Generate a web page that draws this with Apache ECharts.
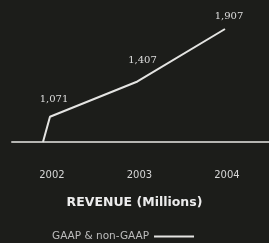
<!DOCTYPE html>
<html>
<head>
<meta charset="utf-8">
<script src="https://cdn.jsdelivr.net/npm/echarts@6/dist/echarts.min.js"></script>
<style>
  html, body { margin: 0; padding: 0; background: #1c1d1a; }
  #chart { width: 269px; height: 243px; }
</style>
</head>
<body>
<div id="chart"></div>
<script>
var years = [2002, 2003, 2004]
var revenue = [1071, 1407, 1907] // millions
var stubStart = [2001.92, 830] // line rises from the baseline into 2002
var seriesName = 'GAAP & non-GAAP'
var titleText = 'REVENUE (Millions)'

var labelColor = '#dedede'
// per-point label nudges (the original sets them by hand)
var labelOffsets = [[4, -7], [5, -11], [4, -3]]

var chart = echarts.init(document.getElementById('chart'))

var data = [{ value: stubStart, label: { show: false } }]
years.forEach(function (y, i) {
  data.push({
    value: [y, revenue[i]],
    label: { offset: labelOffsets[i] }
  })
})

var option = {
  backgroundColor: '#1c1d1a',
  animation: false,
  title: {
    text: titleText,
    left: 'center',
    top: 196,
    padding: 0,
    textStyle: {
      color: '#ececec',
      fontFamily: 'DejaVu Sans',
      fontWeight: 'bold',
      fontSize: 12.5
    }
  },
  legend: {
    data: [seriesName],
    top: 231,
    left: 52,
    padding: 0,
    align: 'right',
    itemWidth: 40,
    itemHeight: 2,
    itemGap: 12,
    icon: 'rect',
    textStyle: { color: '#bdbdbd', fontSize: 10.5, fontFamily: 'DejaVu Sans' }
  },
  grid: { left: 12, right: 0, top: 29, bottom: 101 },
  xAxis: {
    type: 'value',
    min: 2001.566,
    max: 2004.503,
    splitLine: { show: false },
    axisTick: { show: false },
    axisLine: { lineStyle: { color: '#b5b5b2', width: 2 } },
    axisLabel: {
      customValues: years,
      color: '#d6d6d6',
      fontSize: 10,
      fontFamily: 'DejaVu Sans',
      margin: 28,
      padding: [0, 0, 0, 4],
      formatter: function (v) { return String(v) }
    }
  },
  yAxis: {
    type: 'value',
    min: 830,
    max: 1907,
    show: false
  },
  series: [{
    name: seriesName,
    type: 'line',
    data: data,
    showSymbol: true,
    symbol: 'circle',
    symbolSize: 0,
    lineStyle: { color: '#e4e4e2', width: 2 },
    itemStyle: { color: '#e4e4e2' },
    label: {
      show: true,
      position: 'top',
      color: labelColor,
      fontSize: 10,
      fontFamily: 'DejaVu Serif',
      formatter: function (p) { return p.value[1].toLocaleString('en-US') }
    }
  }]
}

chart.setOption(option)
</script>
</body>
</html>
